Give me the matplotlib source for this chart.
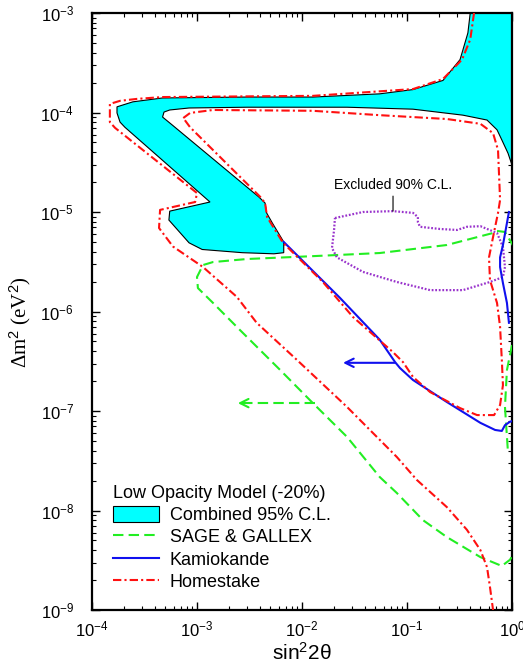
import matplotlib
matplotlib.use("Agg")
import matplotlib.pyplot as plt
from matplotlib.patches import Patch
from matplotlib.lines import Line2D

plt.rcParams['font.family'] = ['Liberation Sans', 'DejaVu Sans']
plt.rcParams['mathtext.fontset'] = 'custom'
plt.rcParams['mathtext.rm'] = 'Liberation Sans'
plt.rcParams['mathtext.it'] = 'Liberation Sans:italic'

# Combined 95% C.L. allowed region (sin^2 2theta, delta m^2 in eV^2)
comb_s2 = [0.40, 0.38, 0.32, 0.22, 0.114, 0.055, 0.0127, 3.0e-3, 4.7e-4, 2.45e-4,
           1.73e-4, 1.73e-4, 1.85e-4, 2.06e-4, 1.33e-3, 5.5e-4, 5.4e-4, 8.4e-4,
           1.12e-3, 2.7e-3, 5.4e-3, 6.7e-3, 6.7e-3, 5.2e-3, 4.6e-3, 4.45e-3, 3.9e-3,
           5.8e-4, 4.7e-4, 4.85e-4, 5.5e-4, 8.4e-4, 3.0e-3, 0.0268, 0.114, 0.341,
           0.578, 0.72, 0.80, 0.916, 1.0, 1.0]
comb_dm2 = [1e-3, 6.3e-4, 3.4e-4, 2.1e-4, 1.7e-4, 1.54e-4, 1.43e-4, 1.43e-4, 1.40e-4,
            1.28e-4, 1.14e-4, 9.9e-5, 8.0e-5, 7.1e-5, 1.26e-5, 1.02e-5, 8.3e-6, 4.9e-6,
            4.2e-6, 3.9e-6, 3.8e-6, 3.9e-6, 5.0e-6, 7.8e-6, 9.8e-6, 1.23e-5, 1.41e-5,
            7.5e-5, 9.0e-5, 1.01e-4, 1.06e-4, 1.11e-4, 1.13e-4, 1.13e-4, 1.08e-4, 9.4e-5,
            8.4e-5, 6.7e-5, 5.3e-5, 3.9e-5, 2.96e-5, 1e-3]

# Homestake: outer contour
home_out_s2 = [0.435, 0.40, 0.334, 0.22, 0.114, 0.0127, 4.7e-4, 2.68e-4, 1.85e-4,
               1.48e-4, 1.48e-4, 1.66e-4, 1.0e-3, 9.6e-4, 4.45e-4, 4.35e-4, 5.9e-4,
               1.14e-3, 2.4e-3, 3.7e-3, 8.95e-3, 0.0268, 0.080, 0.124, 0.24, 0.372,
               0.50, 0.578, 0.617, 0.66]
home_out_dm2 = [1e-3, 5.4e-4, 3.4e-4, 2.17e-4, 1.72e-4, 1.47e-4, 1.43e-4, 1.37e-4,
                1.31e-4, 1.22e-4, 8.0e-5, 7.0e-5, 1.55e-5, 1.26e-5, 1.05e-5, 6.9e-6,
                4.5e-6, 2.8e-6, 1.40e-6, 7.7e-7, 3.26e-7, 1.10e-7, 3.45e-8, 2.03e-8,
                1.08e-8, 6.4e-9, 4.0e-9, 2.7e-9, 1.70e-9, 1e-9]

# Homestake: inner contour
home_in_s2 = [7.4e-4, 8.6e-4, 1.42e-3, 0.0127, 0.055, 0.24, 0.50, 0.66, 0.736, 0.77,
              0.736, 0.66, 0.604, 0.617, 0.72, 0.77, 0.80, 0.82, 0.77, 0.675, 0.465,
              0.32, 0.166, 0.114, 0.0916, 0.0736, 0.0306, 0.0158, 6.6e-3, 4.65e-3,
              4.45e-3, 4.0e-3, 8.6e-4, 7.4e-4]
home_in_dm2 = [8.8e-5, 9.9e-5, 1.06e-4, 1.04e-4, 9.4e-5, 8.6e-5, 7.7e-5, 6.2e-5,
               4.2e-5, 1.32e-5, 9.8e-6, 5.6e-6, 3.5e-6, 2.07e-6, 1.22e-6, 7.0e-7,
               3.26e-7, 1.82e-7, 1.15e-7, 9.1e-8, 9.1e-8, 1.07e-7, 1.55e-7, 2.2e-7,
               3.1e-7, 3.9e-7, 8.8e-7, 1.98e-6, 4.9e-6, 8.9e-6, 1.23e-5, 1.42e-5,
               7.1e-5, 8.8e-5]

# Kamiokande
kam_s2 = [6.7e-3, 0.023, 0.055, 0.077, 0.0858, 0.114, 0.24, 0.50, 0.69, 0.80,
          0.857, 0.957, 1.0]
kam_dm2 = [5.0e-6, 1.37e-6, 5.2e-7, 3.1e-7, 2.7e-7, 2.05e-7, 1.23e-7, 7.6e-8,
           6.45e-8, 6.3e-8, 7.2e-8, 7.8e-8, 7.9e-8]
kam_r_s2 = [0.935, 0.82, 0.77, 0.77, 0.82, 0.895, 0.935]
kam_r_dm2 = [1.0e-5, 4.66e-6, 3.5e-6, 2.8e-6, 1.93e-6, 1.22e-6, 7.7e-7]

# SAGE & GALLEX
gal_s2 = [1.05, 0.857, 0.72, 0.66, 0.24, 0.055, 0.0127, 3.0e-3, 1.42e-3, 1.14e-3,
          1.0e-3, 1.02e-3, 1.42e-3, 2.57e-3, 6.2e-3, 0.0127, 0.0268, 0.055, 0.080,
          0.142, 0.24, 0.50, 0.80, 0.957, 1.05]
gal_dm2 = [4.4e-6, 6.3e-6, 6.45e-6, 6.15e-6, 4.66e-6, 3.87e-6, 3.6e-6, 3.37e-6,
           3.14e-6, 2.93e-6, 2.22e-6, 1.72e-6, 1.22e-6, 6.5e-7, 2.58e-7, 1.2e-7,
           5.5e-8, 2.17e-8, 1.5e-8, 8.0e-9, 5.4e-9, 3.4e-9, 2.77e-9, 3.2e-9, 3.8e-9]
gal_r_s2 = [1.0, 0.895, 0.857, 0.916]
gal_r_dm2 = [4.6e-7, 2.58e-7, 1.1e-7, 3.8e-8]

# Excluded 90% C.L. region
exc_s2 = [0.0206, 0.0381, 0.0736, 0.114, 0.127, 0.127, 0.133, 0.206, 0.30, 0.372,
          0.50, 0.72, 0.82, 0.857, 0.82, 0.617, 0.341, 0.166, 0.080, 0.0381,
          0.0215, 0.0193, 0.0202, 0.0206]
exc_dm2 = [8.7e-6, 1.0e-5, 1.02e-5, 9.8e-6, 8.9e-6, 7.9e-6, 7.1e-6, 6.75e-6, 6.6e-6,
           7.1e-6, 7.2e-6, 6.15e-6, 4.45e-6, 2.8e-6, 2.22e-6, 1.98e-6, 1.64e-6,
           1.64e-6, 1.98e-6, 2.5e-6, 3.5e-6, 4.35e-6, 6.6e-6, 8.7e-6]

# Arrows (start, end) on sin^2 2theta at fixed delta m^2
kam_arrow = (0.077, 0.0246, 3.05e-7)
gal_arrow = (0.0133, 2.45e-3, 1.2e-7)

x_ticks = [1e-4, 1e-3, 1e-2, 1e-1, 1e0]
y_ticks = [1e-9, 1e-8, 1e-7, 1e-6, 1e-5, 1e-4, 1e-3]

CYAN = '#00FFFF'
GREEN = '#22EE22'
BLUE = '#1010EE'
RED = '#FF1010'
PURPLE = '#9933CC'
DASHDOT = (0, (4, 1.5, 1, 1.5))
DASHED = (0, (5, 2.5))

fig = plt.figure(figsize=(5.23, 6.69), dpi=100)
ax = fig.add_axes([92 / 523, 59 / 669, 420 / 523, 597 / 669])
ax.set_xscale('log')
ax.set_yscale('log')
ax.set_xlim(1e-4, 1e0)
ax.set_ylim(1e-9, 1e-3)

ax.fill(comb_s2, comb_dm2, facecolor=CYAN, edgecolor='black', lw=0.8, zorder=2)
ax.plot(gal_s2, gal_dm2, color=GREEN, lw=1.5, ls=DASHED, zorder=3)
ax.plot(gal_r_s2, gal_r_dm2, color=GREEN, lw=1.5, ls=DASHED, zorder=3)
ax.plot(kam_s2, kam_dm2, color=BLUE, lw=1.5, zorder=4)
ax.plot(kam_r_s2, kam_r_dm2, color=BLUE, lw=1.5, zorder=4)
ax.plot(home_out_s2, home_out_dm2, color=RED, lw=1.5, ls=DASHDOT, zorder=5)
ax.plot(home_in_s2, home_in_dm2, color=RED, lw=1.5, ls=DASHDOT, zorder=5)
ax.plot(exc_s2, exc_dm2, color=PURPLE, lw=1.6, ls=(0, (0.8, 0.8)), zorder=3)

# Kamiokande arrow
ax.annotate('', xy=(kam_arrow[1], kam_arrow[2]), xytext=(kam_arrow[0], kam_arrow[2]),
            arrowprops=dict(arrowstyle='->,head_length=0.6,head_width=0.3',
                            color=BLUE, lw=1.5, shrinkA=0, shrinkB=0), zorder=4)
# SAGE & GALLEX arrow: dashed shaft with a solid open head
ax.plot([gal_arrow[0], gal_arrow[1]], [gal_arrow[2], gal_arrow[2]],
        color=GREEN, lw=1.5, ls=DASHED, zorder=3)
ax.annotate('', xy=(gal_arrow[1], gal_arrow[2]), xytext=(gal_arrow[1] * 1.15, gal_arrow[2]),
            arrowprops=dict(arrowstyle='->,head_length=0.6,head_width=0.3',
                            color=GREEN, lw=1.5, shrinkA=0, shrinkB=0), zorder=3)

ax.annotate('Excluded 90% C.L.', xy=(0.0736, 1.02e-5), xytext=(0.0736, 1.87e-5),
            ha='center', va='center', fontsize=10,
            arrowprops=dict(arrowstyle='-', color='black', lw=0.8, shrinkA=1, shrinkB=0))

ax.set_xticks(x_ticks)
ax.set_yticks(y_ticks)
ax.tick_params(which='both', direction='in', top=True, right=True)
ax.tick_params(which='major', length=6, width=1.0)
ax.tick_params(which='minor', length=3, width=0.8)
ax.tick_params(axis='x', which='major', labelsize=12, pad=7)
ax.tick_params(axis='y', which='major', labelsize=12, pad=13)
for sp in ax.spines.values():
    sp.set_linewidth(1.6)

ax.set_xlabel('sin$^2$2\u03b8', fontsize=15, labelpad=2)
ax.set_ylabel('\u0394m$^2$ (eV$^2$)', fontsize=15, family='Liberation Serif')
ax.yaxis.set_label_coords(-0.14, 0.482)

handles = [Patch(facecolor=CYAN, edgecolor='black', lw=0.8),
           Line2D([], [], color=GREEN, lw=1.5, ls=DASHED),
           Line2D([], [], color=BLUE, lw=1.5),
           Line2D([], [], color=RED, lw=1.5, ls=DASHDOT)]
labels = ['Combined 95% C.L.', 'SAGE & GALLEX', 'Kamiokande', 'Homestake']
leg = ax.legend(handles, labels, title='Low Opacity Model (-20%)', loc='lower left',
                bbox_to_anchor=(0.05, 0.032), frameon=False, fontsize=13,
                title_fontsize=13, alignment='left', handlelength=2.55,
                handleheight=1.0, handletextpad=0.6, labelspacing=0.22, borderpad=0,
                borderaxespad=0)

fig.savefig('out.png', dpi=100)
